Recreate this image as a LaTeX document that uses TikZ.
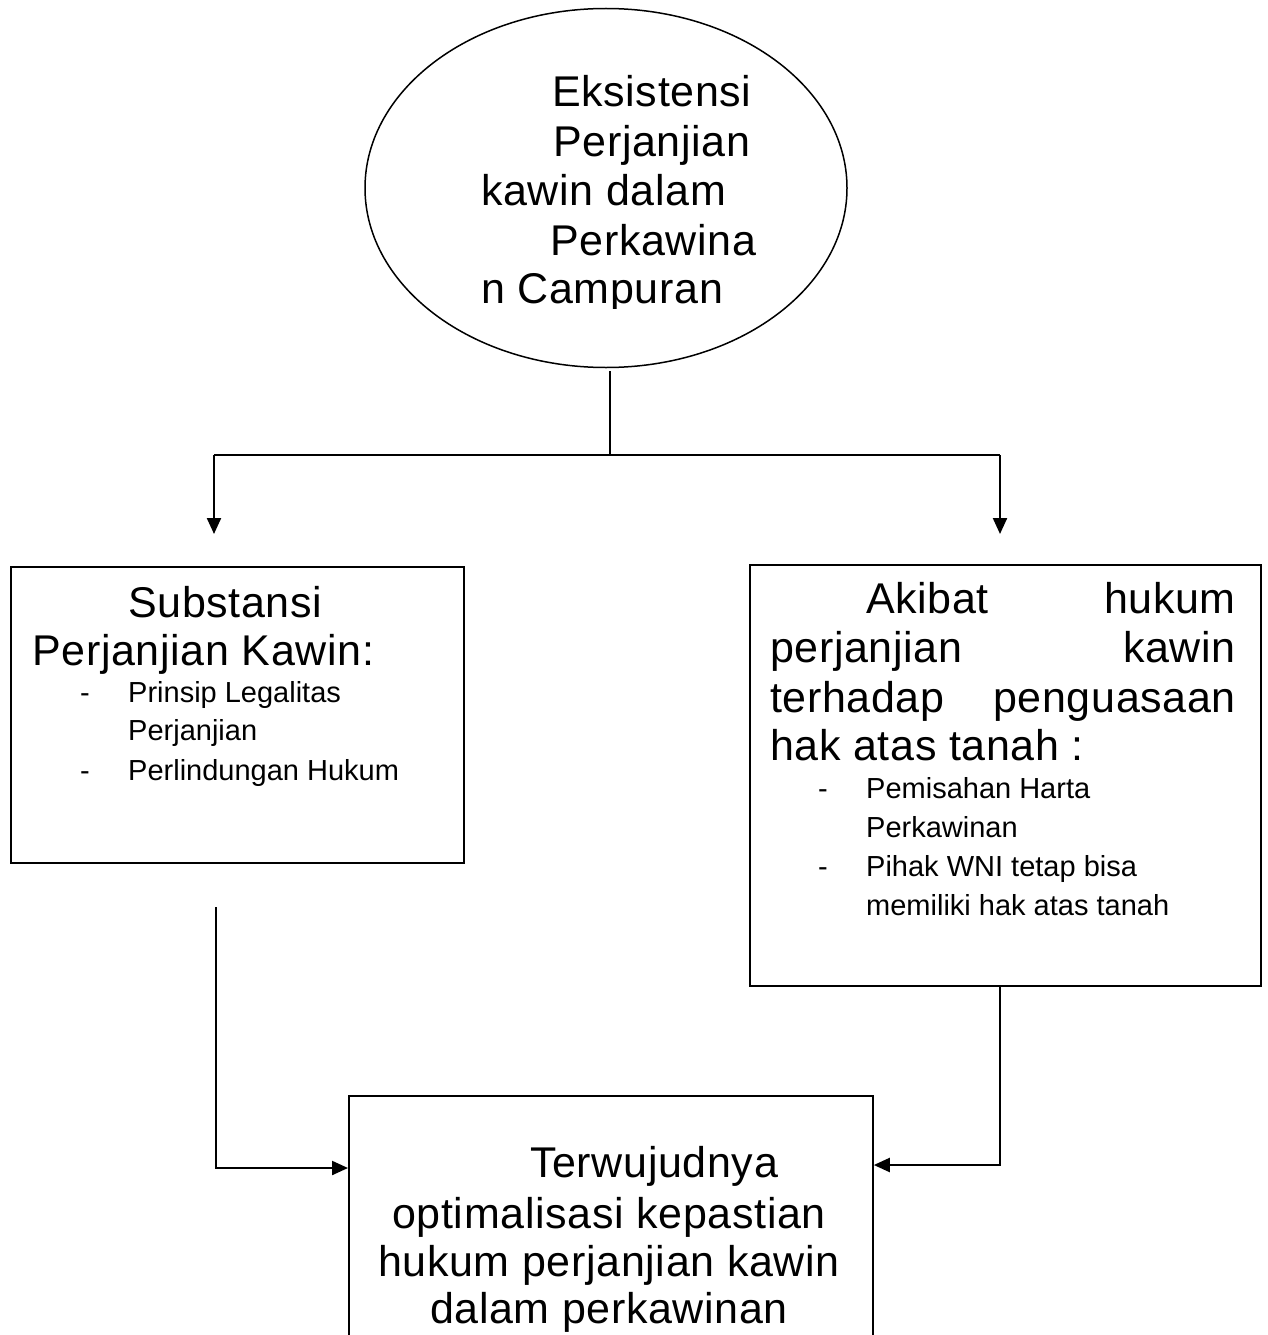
\documentclass[tikz,border=0pt]{standalone}
\usepackage{fontspec}
\setmainfont{Liberation Sans}
\newfontfamily\bigfont[LetterSpace=1.5]{Liberation Sans}
\newfontfamily\smallfont{Liberation Sans}
\usetikzlibrary{arrows.meta,shapes.geometric}
\begin{document}
\begin{tikzpicture}[x=1pt,y=-1pt,
  big/.style={inner sep=0pt,font=\bigfont\fontsize{43}{48}\selectfont},
  small/.style={inner sep=0pt,font=\smallfont\fontsize{29}{38}\selectfont},
  box/.style={draw,line width=1.8pt,inner sep=0pt},
  conn/.style={line width=2.2pt},
  arr/.style={conn,-{Triangle[length=16pt,width=14pt]}}]
\clip (0,0) rectangle (1267,1335);
\fill[white] (0,0) rectangle (1267,1335);

% ellipse
\node[draw,ellipse,line width=1.5pt,minimum width=482pt,minimum height=359pt,inner sep=0pt] (ell) at (606,188) {};
\node[big,anchor=base west] (e1) at (552,107) {Eksistensi};
\node[big,anchor=base west] (e2) at (553,157) {Perjanjian};
\node[big,anchor=base west] (e3) at (481,205) {kawin dalam};
\node[big,anchor=base west] (e4) at (550,255) {Perkawina};
\begin{scope}
\clip (470,265) rectangle (780,308);
\node[big,anchor=base west] (e5) at (481,303) {n Campuran};
\end{scope}

% split connectors
\coordinate (stemtop) at (610,371);
\coordinate (split) at (610,455);
\coordinate (lt) at (214,455);
\coordinate (rt) at (1000,455);
\coordinate (la) at (214,534);
\coordinate (ra) at (1000,534);
\draw[conn] (stemtop) -- (split);
\draw[conn] (lt) -- (rt);
\draw[arr] (lt) -- (la);
\draw[arr] (rt) -- (ra);

% left box
\node[box,anchor=north west,minimum width=453pt,minimum height=296pt] (lbox) at (10,566) {};
\node[big,anchor=base west] (l1) at (128,617) {Substansi};
\node[big,anchor=base west] (l2) at (32,665) {Perjanjian Kawin:};
\node[small,anchor=base west] (ld1) at (80,702) {-};
\node[small,anchor=base west] (lb1) at (128,702) {Prinsip Legalitas};
\node[small,anchor=base west] (lb2) at (128,740) {Perjanjian};
\node[small,anchor=base west] (ld2) at (80,780) {-};
\node[small,anchor=base west] (lb3) at (128,780) {Perlindungan Hukum};

% right box
\node[box,anchor=north west,minimum width=511pt,minimum height=421pt] (rbox) at (749,564) {};
\node[big,anchor=base west] (r1a) at (866,613) {Akibat};
\node[big,anchor=base east] (r1b) at (1236,613) {hukum};
\node[big,anchor=base west] (r2a) at (770,662) {perjanjian};
\node[big,anchor=base east] (r2b) at (1236,662) {kawin};
\node[big,anchor=base west] (r3a) at (770,712) {terhadap};
\node[big,anchor=base east] (r3b) at (1236,712) {penguasaan};
\node[big,anchor=base west] (r4) at (770,760) {hak atas tanah :};
\node[small,anchor=base west] (rd1) at (818,798) {-};
\node[small,anchor=base west] (rb1) at (866,798) {Pemisahan Harta};
\node[small,anchor=base west] (rb2) at (866,837) {Perkawinan};
\node[small,anchor=base west] (rd2) at (818,876) {-};
\node[small,anchor=base west] (rb3) at (866,876) {Pihak WNI tetap bisa};
\node[small,anchor=base west] (rb4) at (866,915) {memiliki hak atas tanah};

% bottom box
\node[box,anchor=north west,minimum width=524pt,minimum height=300pt] (bbox) at (348,1095) {};
\node[big,anchor=base west] (b1) at (530,1177) {Terwujudnya};
\node[big,anchor=base] (b2) at (609,1228) {optimalisasi kepastian};
\node[big,anchor=base] (b3) at (609,1276) {hukum perjanjian kawin};
\node[big,anchor=base] (b4) at (609,1323) {dalam perkawinan};

% connectors to bottom box
\coordinate (lc1) at (216,907);
\coordinate (lc2) at (216,1168);
\draw[arr] (lc1) -- (lc2) -- (lc2 -| bbox.west);
\coordinate (rc1) at (1000,985);
\coordinate (rc2) at (1000,1165);
\draw[arr] (rc1) -- (rc2) -- (rc2 -| bbox.east);
\end{tikzpicture}
\end{document}
